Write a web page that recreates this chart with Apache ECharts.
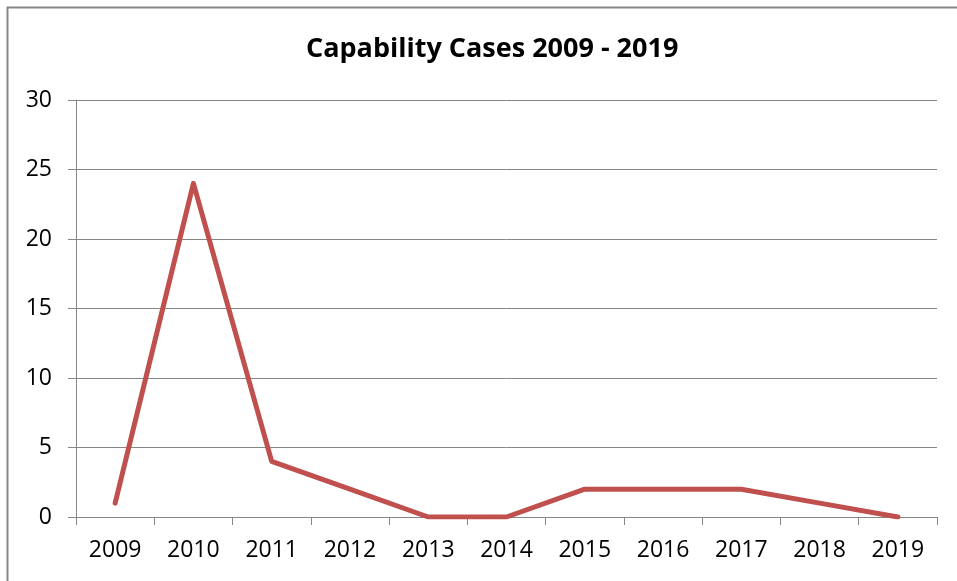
<!DOCTYPE html>
<html><head><meta charset="utf-8">
<script src="https://cdn.jsdelivr.net/npm/echarts@6/dist/echarts.min.js"></script>
<style>html,body{margin:0;padding:0;background:#fff}#c{width:957px;height:581px}</style>
</head><body><div id="c"></div>
<script>
const titleText = "Capability Cases 2009 - 2019";
const years = ["2009","2010","2011","2012","2013","2014","2015","2016","2017","2018","2019"];
const cases = [1,24,4,2,0,0,2,2,2,1,0];

const chart = echarts.init(document.getElementById('c'));
const font = "'Open Sans', sans-serif";
chart.setOption({
  animation: false,
  backgroundColor: '#fff',
  title: { text: titleText, left: 301, top: 31,
    textStyle: { fontFamily: font, fontWeight: 'bold', fontSize: 27, color: '#000' } },
  graphic: [{ type: 'rect', shape: { x: 7.5, y: 7.5, width: 1000, height: 1000 },
    style: { fill: 'none', stroke: '#868686', lineWidth: 2 }, silent: true }],
  grid: { left: 76, right: 20, top: 100, bottom: 64 },
  xAxis: { type: 'category', data: years, boundaryGap: true,
    axisLine: { lineStyle: { color: '#868686', width: 1 } },
    axisTick: { show: true, length: 8, inside: false, alignWithLabel: false, lineStyle: { color: '#868686' } },
    axisLabel: { fontFamily: font, fontSize: 23, color: '#000', margin: 22 },
    splitLine: { show: false } },
  yAxis: { type: 'value', min: 0, max: 30, interval: 5,
    axisLine: { show: true, lineStyle: { color: '#868686', width: 1 } },
    axisTick: { show: true, length: 8, lineStyle: { color: '#868686' } },
    axisLabel: { fontFamily: font, fontSize: 23, color: '#000', margin: 24, align: 'right' },
    splitLine: { show: true, lineStyle: { color: '#868686', width: 1 } } },
  series: [{ type: 'line', data: cases, symbol: 'none',
    lineStyle: { color: '#C0504D', width: 5, cap: 'round', join: 'round' } }]
});
</script></body></html>
